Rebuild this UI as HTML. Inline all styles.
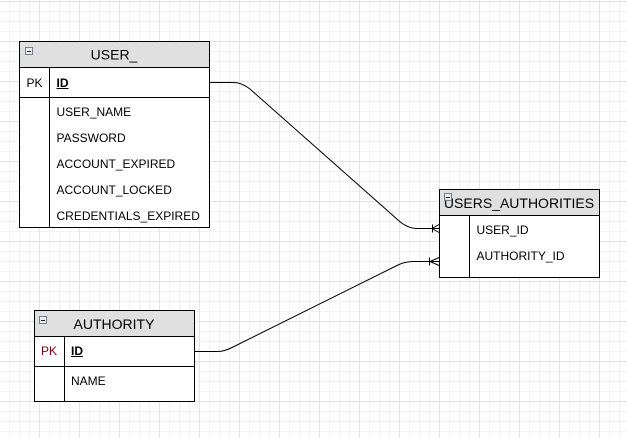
<!DOCTYPE html>
<html>
<head>
<meta charset="utf-8">
<style>
  html,body{margin:0;padding:0;background:#fff;}
  svg{display:block;}
  text{font-family:"Liberation Sans",Arial,sans-serif;fill:#000;}
</style>
</head>
<body>
<svg width="627" height="438" viewBox="0 0 627 438" xmlns="http://www.w3.org/2000/svg">
  <defs>
    <pattern id="minor" x="9" y="1" width="10" height="10" patternUnits="userSpaceOnUse">
      <path d="M0.5 0 V10 M0 0.5 H10" stroke="#f3f3f3" stroke-width="1" fill="none"/>
    </pattern>
    <pattern id="major" x="39" y="1" width="40" height="40" patternUnits="userSpaceOnUse">
      <path d="M0.5 0 V40 M0 0.5 H40" stroke="#e4e4e4" stroke-width="1" fill="none"/>
    </pattern>
  </defs>
  <rect width="627" height="438" fill="#fff"/>
  <rect width="627" height="438" fill="url(#minor)"/>
  <rect width="627" height="438" fill="url(#major)"/>

  <!-- connectors -->
  <g fill="none" stroke="#000" stroke-width="1">
    <path d="M209.5,82.5 L233,82.5 Q242,82.5 250,89 L398,220 Q407,228.5 418,228.5 L439,228.5"/>
    <path d="M432.5,224.5 V232.5 M432,228.5 L439,224.5 M432,228.5 L439,232.5"/>
    <path d="M194.5,351.5 L218,351.5 Q224,351.5 232,347.5 L398,265 Q405,261.5 414,261.5 L439,261.5"/>
    <path d="M429.5,257.5 V265.5 M430,261.5 L439,257.5 M430,261.5 L439,265.5"/>
  </g>

  <!-- USER_ table -->
  <g shape-rendering="crispEdges">
    <rect x="19.5" y="41.5" width="190" height="186" fill="#fff" stroke="#000"/>
    <rect x="19.5" y="41.5" width="190" height="26" fill="#e0e0e0" stroke="#000"/>
    <line x1="19" y1="97.5" x2="210" y2="97.5" stroke="#000"/>
    <line x1="49.5" y1="67" x2="49.5" y2="228" stroke="#000"/>
    <rect x="25.5" y="47.5" width="7" height="7" fill="#eef0f3" stroke="#6f7f8f"/>
    <line x1="27" y1="51.5" x2="31" y2="51.5" stroke="#222"/>
    <line x1="56.5" y1="88.5" x2="68.5" y2="88.5" stroke="#000"/>
  </g>
  <text x="114" y="59.5" font-size="14" text-anchor="middle">USER_</text>
  <text x="34.5" y="87" font-size="12" text-anchor="middle">PK</text>
  <text x="56.5" y="87" font-size="12" font-weight="bold">ID</text>
  <text x="56.5" y="116" font-size="12">USER_NAME</text>
  <text x="56.5" y="142" font-size="12">PASSWORD</text>
  <text x="56.5" y="168" font-size="12">ACCOUNT_EXPIRED</text>
  <text x="56.5" y="194" font-size="12">ACCOUNT_LOCKED</text>
  <text x="56.5" y="220" font-size="12">CREDENTIALS_EXPIRED</text>

  <!-- USERS_AUTHORITIES table -->
  <g shape-rendering="crispEdges">
    <rect x="439.5" y="189.5" width="160" height="88" fill="#fff" stroke="#000"/>
    <rect x="439.5" y="189.5" width="160" height="26" fill="#e0e0e0" stroke="#000"/>
    <line x1="469.5" y1="215" x2="469.5" y2="278" stroke="#000"/>
  </g>
  <text x="519" y="208" font-size="14" text-anchor="middle">USERS_AUTHORITIES</text>
  <g shape-rendering="crispEdges">
    <rect x="444.5" y="193.5" width="7" height="7" fill="#eef0f3" stroke="#6f7f8f" fill-opacity="0.85"/>
    <line x1="446" y1="197.5" x2="450" y2="197.5" stroke="#222"/>
  </g>
  <text x="476.5" y="234" font-size="12">USER_ID</text>
  <text x="476.5" y="260" font-size="12">AUTHORITY_ID</text>

  <!-- AUTHORITY table -->
  <g shape-rendering="crispEdges">
    <rect x="34.5" y="310.5" width="160" height="91" fill="#fff" stroke="#000"/>
    <rect x="34.5" y="310.5" width="160" height="26" fill="#e0e0e0" stroke="#000"/>
    <line x1="34" y1="366.5" x2="195" y2="366.5" stroke="#000"/>
    <line x1="64.5" y1="336" x2="64.5" y2="402" stroke="#000"/>
    <rect x="39.5" y="316.5" width="7" height="7" fill="#eef0f3" stroke="#6f7f8f"/>
    <line x1="41" y1="320.5" x2="45" y2="320.5" stroke="#222"/>
    <line x1="71" y1="356.5" x2="83" y2="356.5" stroke="#000"/>
  </g>
  <text x="114" y="329" font-size="14" text-anchor="middle">AUTHORITY</text>
  <text x="49" y="355" font-size="12" text-anchor="middle" style="fill:#7a0000">PK</text>
  <text x="71" y="355" font-size="12" font-weight="bold">ID</text>
  <text x="71" y="385" font-size="12">NAME</text>
</svg>
</body>
</html>
